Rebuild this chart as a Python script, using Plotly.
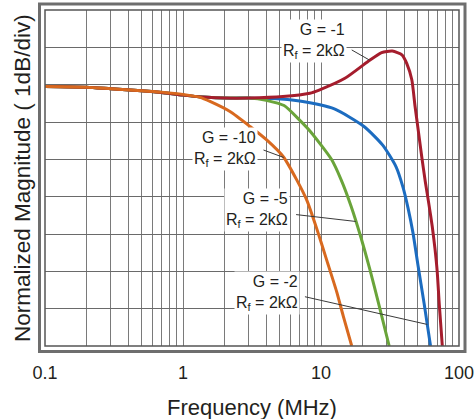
import numpy as np
import plotly.graph_objects as go

# Closed-loop frequency response, inverting configurations, Rf = 2 kOhm
freq_g1 = [0.1, 0.2, 0.3, 0.5, 0.7, 1, 1.5, 2, 3, 5.3, 8.3, 9.6, 14.9, 21.9, 27.5, 32.9,
           38.6, 41.8, 45.5, 48.0, 50.7, 53.7, 57, 60.5, 64, 67, 69.5, 72, 75.7]
mag_g1 = [-0.05, -0.07, -0.11, -0.16, -0.21, -0.28, -0.34, -0.36, -0.36, -0.32, -0.23, -0.15,
          0.17, 0.62, 0.86, 0.90, 0.80, 0.57, 0.13, -0.57, -1.23, -1.93, -2.6, -3.2, -3.8,
          -4.4, -5.0, -5.9, -7.0]

freq_g2 = [0.1, 0.2, 0.3, 0.5, 0.7, 1, 1.5, 2, 3, 4.5, 7, 12.5, 20.5, 28, 35, 39.3, 42.7,
           46.4, 50.4, 55.8, 62.2]
mag_g2 = [-0.05, -0.07, -0.11, -0.16, -0.21, -0.28, -0.34, -0.36, -0.36, -0.37, -0.44, -0.65,
          -1.12, -1.62, -2.2, -2.75, -3.3, -3.97, -4.83, -5.85, -7.0]

freq_g5 = [0.1, 0.2, 0.3, 0.5, 0.7, 1, 1.5, 2, 3, 4, 5.4, 7, 8.4, 11.9, 14, 16.5, 19.5,
           22.6, 26.1, 31.2]
mag_g5 = [-0.05, -0.07, -0.11, -0.16, -0.21, -0.28, -0.34, -0.36, -0.36, -0.42, -0.56, -0.95,
          -1.26, -2.0, -2.55, -3.25, -4.1, -4.95, -5.85, -7.0]

freq_g10 = [0.1, 0.2, 0.3, 0.5, 0.7, 1, 1.33, 1.57, 2.19, 3.06, 4.04, 5.33, 6.67, 7.9, 9.3,
            11, 13, 14.5, 16.7]
mag_g10 = [-0.05, -0.07, -0.11, -0.16, -0.2, -0.26, -0.34, -0.45, -0.72, -1.12, -1.48, -1.93,
           -2.55, -3.1, -3.85, -4.7, -5.55, -6.2, -7.0]

x_ticks = [0.1, 1, 10, 100]
x_tick_text = ["0.1", "1", "10", "100"]

RED = "#a51d2d"
BLUE = "#1c6cc0"
GREEN = "#6aa43a"
ORANGE = "#d8691f"
TEXT = "#231f20"
FONT = "Liberation Sans, Arial, sans-serif"

fig = go.Figure()
# draw order: orange ends up on top, red above green and blue
for f, m, c in [(freq_g2, mag_g2, BLUE), (freq_g5, mag_g5, GREEN),
                (freq_g1, mag_g1, RED), (freq_g10, mag_g10, ORANGE)]:
    fig.add_trace(go.Scatter(x=f, y=m, mode="lines",
                             line=dict(color=c, width=3, shape="spline", smoothing=0.6),
                             showlegend=False, hoverinfo="skip"))


def on_curve(freqs, mags, f):
    return float(np.interp(np.log10(f), np.log10(freqs), mags))


# grid at every 1-2-...-9 step of each decade, labels only on the decades
grid_vals = []
for d in [0.1, 1, 10]:
    grid_vals += [d * k for k in range(1, 10)]
grid_vals.append(100)
grid_text = []
for v in grid_vals:
    match = [t for t, tv in zip(x_tick_text, x_ticks) if abs(tv - v) < 1e-9]
    grid_text.append(match[0] if match else "")

# callouts: label box (right edge, centre), leader start,
# frequency where the leader meets its curve
labels = [
    ("G = -1", (15.4, 1.18), (16.7, 0.93), 22.6, freq_g1, mag_g1),
    ("G = -10", (3.48, -1.71), (3.83, -1.75), 5.37, freq_g10, mag_g10),
    ("G = -5", (5.96, -3.35), (6.6, -3.48), 17.9, freq_g5, mag_g5),
    ("G = -2", (7.1, -5.59), (7.65, -5.68), 58.9, freq_g2, mag_g2),
]
for text, (bx, by), (lx, ly), fend, fs, ms in labels:
    fig.add_shape(type="line", xref="x", yref="y", x0=lx, y0=ly,
                  x1=fend, y1=on_curve(fs, ms, fend),
                  line=dict(color="#3a3a3a", width=1), layer="above")
    fig.add_annotation(x=np.log10(bx), y=by, xref="x", yref="y",
                       text=f"{text}<br>R<sub>f</sub> = 2kΩ",
                       showarrow=False, xanchor="right", yanchor="middle", align="right",
                       bgcolor="white", borderpad=1,
                       font=dict(family=FONT, size=16, color=TEXT))

# double frame around the plotting area
W, H = 414.0, 336.0
fig.add_shape(type="rect", xref="paper", yref="paper",
              x0=-5.5 / W, x1=1 + 6.0 / W, y0=-5.5 / H, y1=1 + 6.0 / H,
              line=dict(color="#6e6e6e", width=3), layer="above")
fig.add_shape(type="rect", xref="paper", yref="paper", x0=0, x1=1, y0=0, y1=1,
              line=dict(color="#555555", width=1.5), layer="above")

fig.add_annotation(text="Frequency (MHz)", xref="paper", yref="paper",
                   x=0.5, y=-61 / H, xanchor="center", yanchor="middle", showarrow=False,
                   font=dict(family=FONT, size=22, color=TEXT))
fig.add_annotation(text="Normalized Magnitude ( 1dB/div)", xref="paper", yref="paper",
                   x=-23 / W, y=0.5, xanchor="center", yanchor="middle", showarrow=False,
                   textangle=-90, font=dict(family=FONT, size=22.5, color=TEXT))

fig.update_xaxes(type="log", range=[-1, 2], tickmode="array", tickvals=grid_vals,
                 ticktext=grid_text, ticks="", showgrid=True, gridcolor="#7a7a7a",
                 gridwidth=1, zeroline=False, showline=False, ticklabelstandoff=14,
                 automargin=False, tickfont=dict(family=FONT, size=18, color=TEXT))
fig.update_yaxes(range=[-7, 2], dtick=1, tick0=0, showticklabels=False, ticks="",
                 showgrid=True, gridcolor="#6a6a6a", gridwidth=1, zeroline=False,
                 showline=False, automargin=False)

fig.update_layout(width=475, height=419, margin=dict(l=45, r=16, t=10, b=73),
                  paper_bgcolor="white", plot_bgcolor="white", showlegend=False)

fig.write_html("out.html")
